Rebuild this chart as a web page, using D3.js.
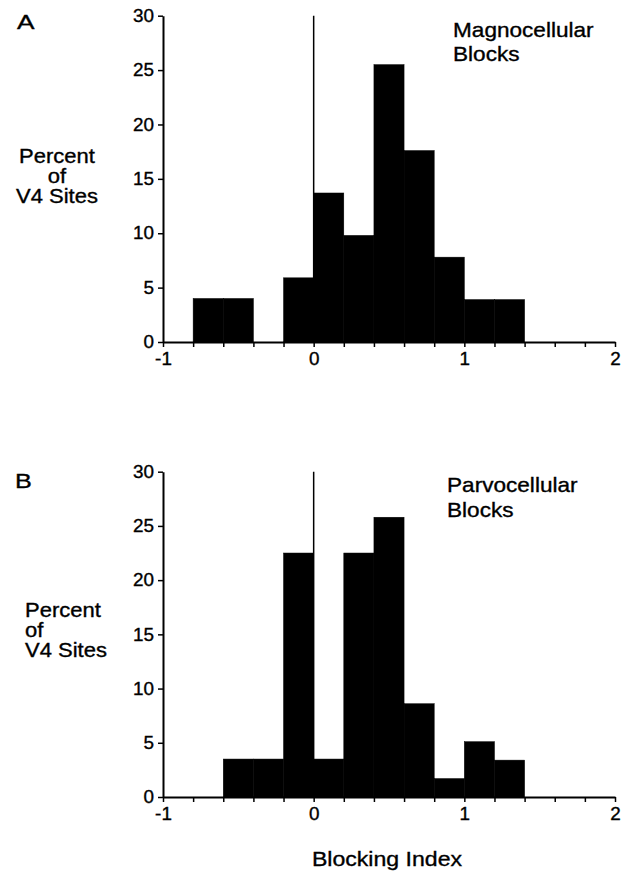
<!DOCTYPE html>
<html>
<head>
<meta charset="utf-8">
<script src="https://cdn.jsdelivr.net/npm/d3@7"></script>
<style>
  body { margin: 0; background: #fff; }
  svg text { font-family: "Liberation Sans", Arial, Helvetica, sans-serif; fill: #000; stroke: #000; stroke-width: 0.35px; }
</style>
</head>
<body>
<div id="chart"></div>
<script>
var width = 632;
var height = 875;

// bin left edges (width 0.2)
var binStarts = [-0.8, -0.6, -0.4, -0.2, 0, 0.2, 0.4, 0.6, 0.8, 1.0, 1.2];
var binWidth = 0.2;

// percent of V4 sites per bin
var magnoPct = [4, 4, 0, 5.9, 13.7, 9.8, 25.5, 17.6, 7.8, 3.9, 3.9];
var parvoPct = [0, 3.5, 3.5, 22.5, 3.5, 22.5, 25.8, 8.6, 1.7, 5.1, 3.4];

var yTicks = [0, 5, 10, 15, 20, 25, 30];
var xTicks = d3.range(-5, 11).map(function(i) { return i / 5; });

var svg = d3.select("#chart")
            .append("svg")
            .attr("width", width)
            .attr("height", height);

var sx = 1.1; // the scanned lettering is a bit wide

function label(x, y, str, size, anchor, stretch) {
    svg.append("text")
        .attr("transform", "translate(" + x + "," + y + ") scale(" + (stretch || sx) + ",1)")
        .attr("text-anchor", anchor || "start")
        .style("font-size", size + "px")
        .text(str);
}

function panel(values, yTop, yBottom) {
    var x = d3.scaleLinear().domain([-1, 2]).range([163, 615]);
    var y = d3.scaleLinear().domain([0, 30]).range([yBottom, yTop]);
    var g = svg.append("g");

    g.selectAll("rect")
        .data(values)
        .enter()
        .append("rect")
        .attr("x", function(d, i) { return x(binStarts[i]); })
        .attr("width", function(d, i) { return x(binStarts[i] + binWidth) - x(binStarts[i]); })
        .attr("y", function(d) { return y(d); })
        .attr("height", function(d) { return y(0) - y(d); })
        .attr("fill", "#000")
        .attr("stroke", "#000")
        .attr("stroke-width", 0.5);

    // line at zero
    g.append("line")
        .attr("x1", x(0)).attr("x2", x(0))
        .attr("y1", y(0)).attr("y2", y(30))
        .attr("stroke", "#000")
        .attr("stroke-width", 1.5);

    var ya = g.append("g")
        .attr("transform", "translate(" + x(-1) + ",0)")
        .call(d3.axisLeft(y).tickValues(yTicks).tickSize(5).tickSizeOuter(0).tickPadding(4));

    var xa = g.append("g")
        .attr("transform", "translate(0," + y(0) + ")")
        .call(d3.axisBottom(x).tickValues(xTicks).tickSize(5).tickSizeOuter(0).tickPadding(5)
            .tickFormat(function(d) {
                return Math.abs(d - Math.round(d)) < 1e-9 ? String(Math.round(d)) : "";
            }));

    [ya, xa].forEach(function(a) {
        a.select(".domain").attr("stroke-width", 2);
        a.selectAll(".tick line").attr("stroke-width", 1.5);
        a.selectAll(".tick text")
            .style("font-size", "18px")
            .style("font-family", "'Liberation Sans', Arial, sans-serif")
            .attr("fill", "#000");
    });
    ya.selectAll(".tick text").attr("transform", "scale(1.05,1)").attr("x", -9 / 1.05);
    xa.selectAll(".tick text").attr("transform", "scale(1.05,1)");
}

// A: magnocellular
panel(magnoPct, 15.7, 342);
label(17, 29, "A", 21, "start", 1.25);
label(57, 163, "Percent", 20, "middle");
label(57, 183, "of", 20, "middle");
label(57, 203, "V4 Sites", 20, "middle");
label(453, 37, "Magnocellular", 20, "start", 1.13);
label(453, 61, "Blocks", 20, "start", 1.13);

// B: parvocellular
panel(parvoPct, 471.7, 797);
label(15, 488, "B", 21, "start", 1.2);
label(25, 617, "Percent", 20, "start");
label(25, 637, "of", 20, "start");
label(25, 657, "V4 Sites", 20, "start");
label(447, 492, "Parvocellular", 20, "start", 1.13);
label(447, 517, "Blocks", 20, "start", 1.13);

label(387, 866, "Blocking Index", 21, "middle", 1.1);
</script>
</body>
</html>
